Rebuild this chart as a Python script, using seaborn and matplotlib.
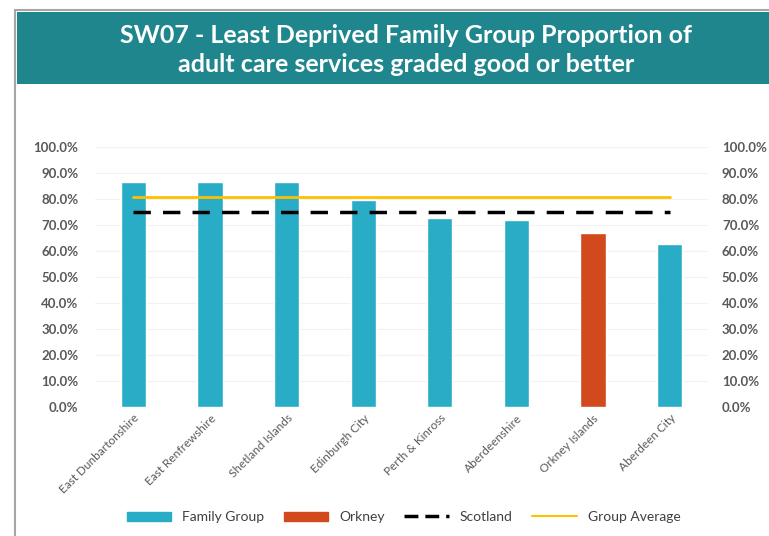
import matplotlib.pyplot as plt
import matplotlib.patches as mpatches
from matplotlib.lines import Line2D
import seaborn as sns
import pandas as pd

councils = ['East Dunbartonshire', 'East Renfrewshire', 'Shetland Islands',
            'Edinburgh City', 'Perth & Kinross', 'Aberdeenshire',
            'Orkney Islands', 'Aberdeen City']
values = [86.6, 86.7, 86.6, 79.6, 72.7, 71.9, 66.9, 62.7]
scotland = 75.0
group_avg = 80.8
highlight = 'Orkney Islands'

teal = '#29adc6'
orange = '#d2491d'
gold = '#ffc000'
label_col = '#595959'

df = pd.DataFrame({'council': councils, 'value': values})
df['group'] = ['Orkney' if c == highlight else 'Family Group' for c in councils]

sns.set_style('white')
plt.rcParams['font.family'] = ['Lato', 'DejaVu Sans']

fig = plt.figure(figsize=(7.69, 5.36), dpi=100)

# frame and title banner (kept behind the axes)
fig.patches.append(mpatches.Rectangle((15 / 769, -0.01), 1.1, 1 - 10 / 536 + 0.01,
                                      transform=fig.transFigure, facecolor='white',
                                      edgecolor='#a6a6a6', linewidth=1.5, zorder=-2))
fig.patches.append(mpatches.Rectangle((17 / 769, 1 - 84 / 536), 1.0, 72 / 536,
                                      transform=fig.transFigure, facecolor='#1f868e',
                                      edgecolor='none', zorder=-1))
fig.text(0.528, 1 - 50 / 536,
         'SW07 - Least Deprived Family Group Proportion of\nadult care services graded good or better',
         ha='center', va='center', color='white', fontsize=18, fontweight='bold',
         linespacing=1.3)

ax = fig.add_axes([95 / 769, 1 - 407 / 536, 613 / 769, 260 / 536])
ax.patch.set_alpha(0)
sns.barplot(data=df, x='council', y='value', hue='group',
            palette={'Family Group': teal, 'Orkney': orange}, saturation=1,
            dodge=False, width=0.33, legend=False, ax=ax)

xs = list(range(len(councils)))
ax.plot(xs, [group_avg] * len(xs), color=gold, linewidth=2)
ax.plot(xs, [scotland] * len(xs), color='black', linewidth=2.5,
        linestyle=(0, (5, 3.5)))

ax.set_xlim(-0.5, len(councils) - 0.5)
ax.set_ylim(0, 100)
ax.set_yticks(range(0, 101, 10))
ax.set_yticklabels([f'{v:.1f}%' for v in range(0, 101, 10)],
                   color=label_col, fontsize=9.5, fontweight='bold')
ax.yaxis.grid(True, color='#f2f2f2', linewidth=0.8)
ax.set_axisbelow(True)
ax.set_xticks(xs)
ax.set_xticklabels(councils, rotation=45, ha='right', rotation_mode='anchor',
                   fontsize=8.5, color=label_col)
ax.tick_params(axis='y', length=0, pad=12)
ax.tick_params(axis='x', length=0, pad=4)
ax.set_xlabel('')
ax.set_ylabel('')
for s in ax.spines.values():
    s.set_visible(False)

ax2 = ax.twinx()
ax2.set_ylim(0, 100)
ax2.set_yticks(range(0, 101, 10))
ax2.set_yticklabels([f'{v:.1f}%' for v in range(0, 101, 10)],
                    color=label_col, fontsize=9.5, fontweight='bold')
ax2.tick_params(axis='y', length=0, pad=10)
for s in ax2.spines.values():
    s.set_visible(False)

handles = [mpatches.Patch(color=teal, label='Family Group'),
           mpatches.Patch(color=orange, label='Orkney'),
           Line2D([0], [0], color='black', linewidth=2.5, linestyle=(0, (4, 2)),
                  label='Scotland'),
           Line2D([0], [0], color=gold, linewidth=1.5, label='Group Average')]
fig.legend(handles=handles, loc='center', bbox_to_anchor=(0.525, 1 - 517 / 536),
           ncol=4, frameon=False, fontsize=10, handlelength=3.2,
           handleheight=0.6, columnspacing=1.4, labelcolor='#404040')

fig.savefig('out.png', dpi=100)
